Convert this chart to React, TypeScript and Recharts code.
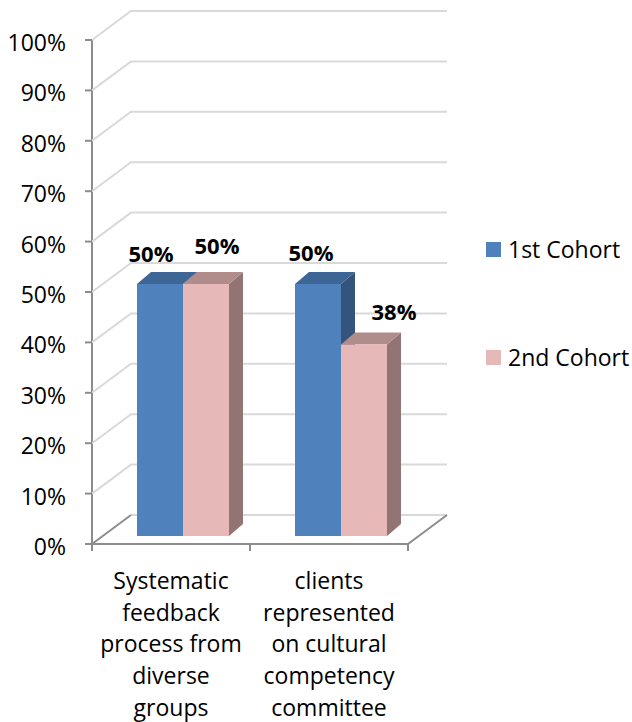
import React from 'react';
import { BarChart, Bar, XAxis, YAxis, CartesianGrid, Legend, LabelList } from 'recharts';

const categories = ['Systematic feedback process from diverse groups', 'clients represented on cultural competency committee'];
const categoryLines = [
  ['Systematic', 'feedback', 'process from', 'diverse', 'groups'],
  ['clients', 'represented', 'on cultural', 'competency', 'committee'],
];
const firstCohort = [50, 50];
const secondCohort = [50, 38];
const yTicks = [0, 10, 20, 30, 40, 50, 60, 70, 80, 90, 100];

const data = categories.map((name, i) => ({
  name,
  first: firstCohort[i],
  second: secondCohort[i],
}));

// plot area = plane of the bar fronts
const W = 632;
const H = 722;
const PLOT = { left: 104, top: 32, width: 316, height: 504 };
const FRONT = { dx: -12, dy: 8 }; // axis plane relative to bar plane
const BACK = { dx: 27, dy: -21 }; // back wall relative to bar plane
const DEPTH = { dx: 14, dy: -12 }; // bar depth

const FONT = '"Open Sans", sans-serif';
const TEXT_SIZE = 23;
const GRID = '#d9d9d9';
const AXIS = '#8c8c8c';

const blue = { front: '#4f81bd', top: '#3d6595', side: '#34547c' };
const pink = { front: '#e6b9b8', top: '#b08d8b', side: '#927473' };

// label offsets from the bar's front top-center (as Excel places them)
const blueLabelOffsets = [
  [-9, -31],
  [-7, -32],
];
const pinkLabelOffsets = [
  [11, -39],
  [30, -33],
];

function bar3d(colors: typeof blue) {
  return (props: any) => {
    const { x, y, width, height } = props;
    const d = DEPTH;
    return (
      <g>
        <polygon
          points={`${x + width},${y} ${x + width + d.dx},${y + d.dy} ${x + width + d.dx},${y + height + d.dy} ${x + width},${y + height}`}
          fill={colors.side}
        />
        <polygon
          points={`${x},${y} ${x + d.dx},${y + d.dy} ${x + width + d.dx},${y + d.dy} ${x + width},${y}`}
          fill={colors.top}
        />
        <rect x={x} y={y} width={width} height={height} fill={colors.front} />
      </g>
    );
  };
}

function label(offsets: number[][]) {
  return (props: any) => {
    const { x, y, width, value, index } = props;
    const [ox, oy] = offsets[index] || [0, -32];
    return (
      <text
        x={x + width / 2 + ox}
        y={y + oy}
        textAnchor="middle"
        dominantBaseline="central"
        fontFamily={FONT}
        fontWeight="bold"
        fontSize={22}
        fill="#000"
      >
        {`${value}%`}
      </text>
    );
  };
}

function gridLine(props: any) {
  const { x1, x2, y1 } = props;
  const bottom = PLOT.top + PLOT.height;
  const fx = x1 + FRONT.dx;
  const fy = y1 + FRONT.dy;
  const isFloor = Math.abs(y1 - bottom) < 1;
  const backPath = `M${fx},${fy} L${x1 + BACK.dx},${y1 + BACK.dy} L${x2 + BACK.dx},${y1 + BACK.dy}`;
  if (!isFloor) {
    return (
      <g key={props.key}>
        <path d={backPath} stroke={GRID} strokeWidth={2} fill="none" />
        <line x1={fx - 7} y1={fy} x2={fx} y2={fy} stroke={AXIS} strokeWidth={2} />
      </g>
    );
  }
  const rx = x2 + FRONT.dx;
  const mid = (fx + rx) / 2;
  return (
    <g key={props.key}>
      <line x1={x1 + BACK.dx} y1={y1 + BACK.dy} x2={x2 + BACK.dx} y2={y1 + BACK.dy} stroke={GRID} strokeWidth={2} />
      <line x1={fx} y1={fy} x2={x1 + BACK.dx} y2={y1 + BACK.dy} stroke={AXIS} strokeWidth={2} />
      <line x1={rx} y1={fy} x2={x2 + BACK.dx} y2={y1 + BACK.dy} stroke={AXIS} strokeWidth={2} />
      <line x1={fx} y1={fy} x2={rx} y2={fy} stroke={AXIS} strokeWidth={2} />
      <line x1={fx} y1={PLOT.top + FRONT.dy} x2={fx} y2={fy} stroke={AXIS} strokeWidth={2} />
      <line x1={fx - 7} y1={fy} x2={fx} y2={fy} stroke={AXIS} strokeWidth={2} />
      {[fx, mid, rx].map((tx) => (
        <line key={tx} x1={tx} y1={fy} x2={tx} y2={fy + 7} stroke={AXIS} strokeWidth={2} />
      ))}
    </g>
  );
}

function YTick(props: any) {
  const { y, payload } = props;
  return (
    <text
      x={PLOT.left + FRONT.dx - 26}
      y={y + FRONT.dy + 2}
      textAnchor="end"
      dominantBaseline="central"
      fontFamily={FONT}
      fontSize={TEXT_SIZE}
      fill="#000"
    >
      {`${payload.value}%`}
    </text>
  );
}

function XTick(props: any) {
  const { x, y, index } = props;
  const lines = categoryLines[index] || [];
  return (
    <text
      x={x + FRONT.dx}
      y={y + 44}
      textAnchor="middle"
      dominantBaseline="central"
      fontFamily={FONT}
      fontSize={TEXT_SIZE}
      fill="#000"
    >
      {lines.map((l, i) => (
        <tspan key={i} x={x + FRONT.dx} y={y + 44 + i * 31.7}>
          {l}
        </tspan>
      ))}
    </text>
  );
}

function LegendBox(props: any) {
  const items = props.payload || [];
  return (
    <div style={{ position: 'relative', width: 146, height: 130 }}>
      {items.map((it: any, i: number) => (
        <div
          key={it.value}
          style={{ position: 'absolute', left: 0, top: i * 108, display: 'flex', alignItems: 'center', height: 16 }}
        >
          <span style={{ width: 15, height: 15, background: it.color, display: 'inline-block', flex: 'none' }} />
          <span style={{ marginLeft: 7, fontFamily: FONT, fontSize: TEXT_SIZE, color: '#000', whiteSpace: 'nowrap' }}>
            {it.value}
          </span>
        </div>
      ))}
    </div>
  );
}

export default function App() {
  const yAxisWidth = 60;
  const xAxisHeight = 150;
  return (
    <div style={{ position: 'absolute', left: 0, top: 0, width: W, height: H, background: '#fff' }}>
      <BarChart
        width={W}
        height={H}
        data={data}
        barGap={0}
        barSize={46}
        margin={{
          top: PLOT.top,
          left: PLOT.left - yAxisWidth,
          right: W - PLOT.left - PLOT.width,
          bottom: H - PLOT.top - PLOT.height - xAxisHeight,
        }}
      >
        <CartesianGrid vertical={false} horizontal={gridLine} />
        <XAxis
          dataKey="name"
          height={xAxisHeight}
          axisLine={false}
          tickLine={false}
          tickSize={0}
          tickMargin={0}
          interval={0}
          tick={<XTick />}
        />
        <YAxis
          width={yAxisWidth}
          domain={[0, 100]}
          ticks={yTicks}
          axisLine={false}
          tickLine={false}
          tick={<YTick />}
        />
        <Legend
          layout="horizontal"
          verticalAlign="middle"
          align="center"
          content={<LegendBox />}
          wrapperStyle={{ left: 486, top: 241, width: 146 }}
        />
        <Bar dataKey="first" name="1st Cohort" fill={blue.front} shape={bar3d(blue)} isAnimationActive={false}>
          <LabelList dataKey="first" content={label(blueLabelOffsets)} />
        </Bar>
        <Bar dataKey="second" name="2nd Cohort" fill={pink.front} shape={bar3d(pink)} isAnimationActive={false}>
          <LabelList dataKey="second" content={label(pinkLabelOffsets)} />
        </Bar>
      </BarChart>
    </div>
  );
}
